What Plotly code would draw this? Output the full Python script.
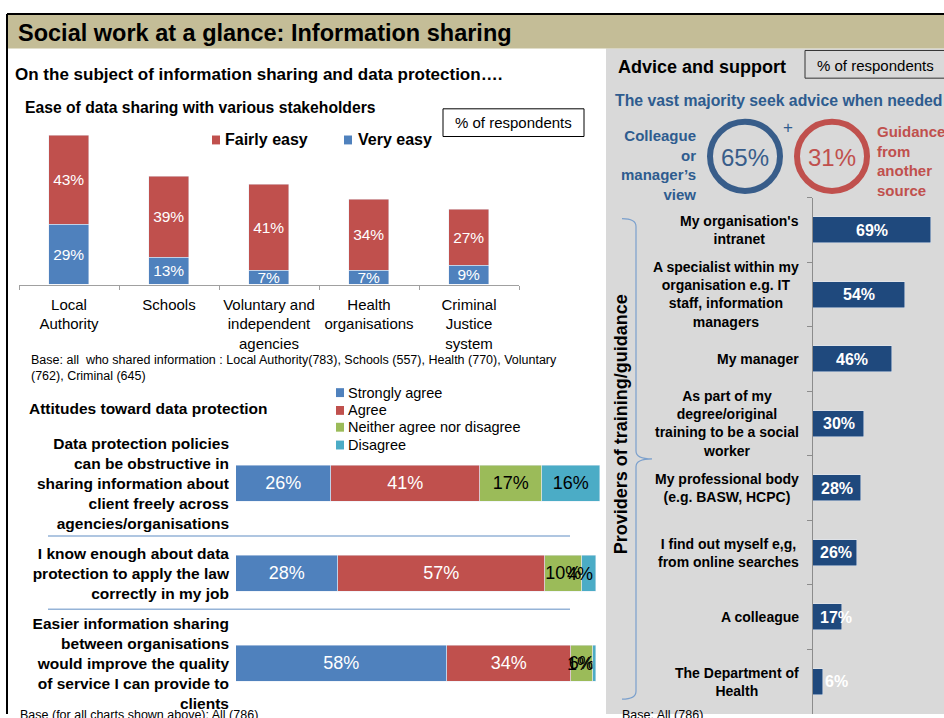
import plotly.graph_objects as go

W, H = 944, 718
FONT = "Liberation Sans, Arial, sans-serif"


def px(x):
    return x / W


def py(y):
    return 1 - y / H


# ---------------- data ----------------
stakeholders = ["Local<br>Authority", "Schools", "Voluntary and<br>independent<br>agencies",
                "Health<br>organisations", "Criminal<br>Justice<br>system"]
very_easy = [29, 13, 7, 7, 9]
fairly_easy = [43, 39, 41, 34, 27]

statements = [
    "Data protection policies<br>can be obstructive in<br>sharing information about<br>client freely across<br>agencies/organisations",
    "I know enough about data<br>protection to apply the law<br>correctly in my job",
    "Easier information sharing<br>between organisations<br>would improve the quality<br>of service I can provide to<br>clients",
]
strongly_agree = [26, 28, 58]
agree = [41, 57, 34]
neither = [17, 10, 6]
disagree = [16, 4, 1]
attitude_names = ["Strongly agree", "Agree", "Neither agree nor disagree", "Disagree"]

providers = [
    "My organisation's<br>intranet",
    "A specialist within my<br>organisation e.g. IT<br>staff, information<br>managers",
    "My manager",
    "As part of my<br>degree/original<br>training to be a social<br>worker",
    "My professional body<br>(e.g. BASW, HCPC)",
    "I find out myself e,g,<br>from online searches",
    "A colleague",
    "The Department of<br>Health",
]
provider_pct = [69, 54, 46, 30, 28, 26, 17, 6]

colleague_pct = 65
other_source_pct = 31

# ---------------- colours ----------------
BLUE = "#4F81BD"
RED = "#C0504D"
GREEN = "#9BBB59"
TEAL = "#4BACC6"
NAVY = "#1F497D"
RING_BLUE = "#385D8A"
TXT_BLUE = "#2E5C8F"
GRAY_PANEL = "#D9D9D9"
TAN = "#C4BD97"

fig = go.Figure()

# ---------- top-left stacked columns ----------
for name, vals, col in [("Very easy", very_easy, BLUE), ("Fairly easy", fairly_easy, RED)]:
    fig.add_trace(go.Bar(x=stakeholders, y=vals, name=name, marker_color=col,
                         width=0.4, xaxis="x", yaxis="y", texttemplate="%{y}%",
                         textposition="inside", insidetextanchor="middle",
                         constraintext="none", textangle=0,
                         textfont=dict(color="white", size=15.5, family=FONT),
                         showlegend=False))

# ---------- bottom-left stacked horizontal bars ----------
att_vals = [strongly_agree, agree, neither, disagree]
att_cols = [BLUE, RED, GREEN, TEAL]
att_txt = ["white", "white", "black", "black"]
annotations = []
for k, (name, vals, col, tc) in enumerate(zip(attitude_names, att_vals, att_cols, att_txt)):
    last = k == len(att_vals) - 1
    tt = [("" if (last and v < 5) else "%{x}%") for v in vals]
    fig.add_trace(go.Bar(y=statements, x=vals, name=name, orientation="h", marker_color=col,
                         width=0.4, xaxis="x2", yaxis="y2", texttemplate=tt,
                         textposition="inside", insidetextanchor="middle",
                         constraintext="none", textangle=0,
                         textfont=dict(color=tc, size=18, family=FONT), showlegend=False))
# tiny end-segment labels pulled back inside the plot edge (as in the original)
for i, v in enumerate(disagree):
    if v < 5:
        end = strongly_agree[i] + agree[i] + neither[i] + disagree[i]
        annotations.append(dict(x=end, xref="x2", y=statements[i], yref="y2", text=f"{v}%",
                                showarrow=False, xanchor="right", yanchor="middle", xshift=-1,
                                font=dict(size=18, color="black", family=FONT)))

# ---------- right horizontal bars ----------
fig.add_trace(go.Bar(y=providers, x=provider_pct, orientation="h", marker_color=NAVY,
                     width=0.4, xaxis="x3", yaxis="y3", showlegend=False))

shapes = []


def rect(x0, y0, x1, y1, fill=None, line=None, lw=1, layer="below"):
    shapes.append(dict(type="rect", xref="paper", yref="paper", x0=px(x0), x1=px(x1),
                       y0=py(y1), y1=py(y0), fillcolor=fill or "rgba(0,0,0,0)",
                       line=dict(color=line or "rgba(0,0,0,0)", width=lw if line else 0),
                       layer=layer))


def hline(x0, y0, x1, y1, color, lw=1, layer="below"):
    shapes.append(dict(type="line", xref="paper", yref="paper", x0=px(x0), x1=px(x1),
                       y0=py(y0), y1=py(y1), line=dict(color=color, width=lw), layer=layer))


def text(x, y, s, size, color="black", bold=False, xanchor="left", yanchor="middle",
         align="left", **kw):
    annotations.append(dict(x=px(x), y=py(y), xref="paper", yref="paper", text=s,
                            showarrow=False, xanchor=xanchor, yanchor=yanchor, align=align,
                            font=dict(size=size, color=color, family=FONT,
                                      weight="bold" if bold else "normal"), **kw))


# background panels
rect(606, 45, 944, 718, fill=GRAY_PANEL)
rect(7, 10, 944, 45, fill=TAN)
hline(7, 10, 944, 10, "black", 2)
hline(7, 10, 7, 718, "black", 2)

# titles
text(16, 29, "Social work at a glance: Information sharing", 23.5, bold=True)
text(13, 71, "On the subject of information sharing and data protection….", 17, bold=True)
text(23, 105, "Ease of data sharing with various stakeholders", 15.7, bold=True)

# % of respondents box (left)
rect(443, 106, 584, 134, fill="white", line="black", lw=1)
text(513, 120, "% of respondents", 15, xanchor="center")

# top legend
rect(212, 133, 220, 142, fill=RED)
text(223, 137, "Fairly easy", 16, bold=True)
rect(344, 133, 352, 142, fill=BLUE)
text(356, 137, "Very easy", 16, bold=True)

text(29, 368, "Base: all  who shared information : Local Authority(783), Schools (557), Health (770), Voluntary<br>(762), Criminal (645)",
     12.5, yanchor="middle")

# bottom-left
text(27, 409, "Attitudes toward data protection", 15.5, bold=True)
for i, (name, col) in enumerate(zip(attitude_names, att_cols)):
    yy = [393, 411, 428, 446][i]
    rect(336, yy - 4.5, 344, yy + 4.5, fill=col)
    text(346, yy, name, 14.5)
hline(48, 538, 570, 538, "#95B3D7", 1.5)
hline(48, 612, 570, 612, "#95B3D7", 1.5)
text(18, 710, "Base (for all charts shown above): All (786)", 12.5, yanchor="top")

# right panel
text(616, 64, "Advice and support", 18, bold=True)
rect(805, 47, 950, 75, line="#333333", lw=1)
text(815, 62, "% of respondents", 15)
text(613, 98, "The vast majority seek advice when needed", 15.8, color=TXT_BLUE, bold=True)

for cx, col, val in [(745, RING_BLUE, colleague_pct), (832, RED, other_source_pct)]:
    r = 35
    shapes.append(dict(type="circle", xref="paper", yref="paper", x0=px(cx - r), x1=px(cx + r),
                       y0=py(154 + r), y1=py(154 - r), line=dict(color=col, width=6),
                       layer="above"))
    text(cx, 155, f"{val}%", 24, color=col, xanchor="center")
text(788, 125, "+", 17, color=TXT_BLUE, xanchor="center")
text(698, 163, "Colleague<br>or<br>manager’s<br>view", 15, color=TXT_BLUE, bold=True,
     xanchor="right", align="right")
text(875, 159, "Guidance<br>from<br>another<br>source", 15, color=RED, bold=True)

# brace
pts = [(622, 217), (636, 217), (636, 225), (636, 452), (636, 460), (652, 460), (636, 460),
       (636, 468), (636, 695), (636, 703), (622, 703)]
P = [(px(a), py(b)) for a, b in pts]
path = (f"M{P[0][0]},{P[0][1]} Q{P[1][0]},{P[1][1]} {P[2][0]},{P[2][1]} "
        f"L{P[3][0]},{P[3][1]} Q{P[4][0]},{P[4][1]} {P[5][0]},{P[5][1]} "
        f"Q{P[6][0]},{P[6][1]} {P[7][0]},{P[7][1]} L{P[8][0]},{P[8][1]} "
        f"Q{P[9][0]},{P[9][1]} {P[10][0]},{P[10][1]}")
shapes.append(dict(type="path", xref="paper", yref="paper", path=path,
                   line=dict(color="#7BA0CD", width=1.2), layer="above"))
text(621, 425, "Providers of training/guidance", 18, bold=True, xanchor="center",
     textangle=-90)

for cat, v in zip(providers, provider_pct):
    annotations.append(dict(x=px(801), xref="paper", y=cat, yref="y3", text=cat,
                            showarrow=False, xanchor="right", align="center",
                            yanchor="middle",
                            font=dict(size=14, color="black", family=FONT, weight="bold")))
    annotations.append(dict(x=max(v / 2, 13.5), xref="x3", y=cat, yref="y3", text=f"{v}%",
                            showarrow=False, xanchor="center", yanchor="middle",
                            font=dict(size=16, color="white", family=FONT, weight="bold")))
text(620, 710, "Base: All (786)", 12.5, yanchor="top")

fig.update_layout(
    width=W, height=H, margin=dict(l=0, r=0, t=0, b=0),
    paper_bgcolor="white", plot_bgcolor="rgba(0,0,0,0)",
    barmode="stack", bargap=0, font=dict(family=FONT, color="black"),
    shapes=shapes, annotations=annotations,
    xaxis=dict(domain=[px(19), px(519)], anchor="y", showline=True, linecolor="#A0A0A0",
               ticks="outside", tickson="boundaries", ticklen=4, tickcolor="#A0A0A0",
               ticklabelstandoff=6, tickangle=0, tickfont=dict(size=15, color="black"),
               showgrid=False),
    yaxis=dict(domain=[py(284), py(116)], anchor="x", range=[0, 80], visible=False,
               showgrid=False),
    xaxis2=dict(domain=[px(236), px(600)], anchor="y2", range=[0, 100], visible=False),
    yaxis2=dict(domain=[py(712.5), py(439.5)], anchor="x2", range=[2.5, -0.5],
                type="category", categoryorder="array", categoryarray=statements,
                showline=False, ticks="", showgrid=False, ticklabelstandoff=6,
                tickfont=dict(size=15.5, color="black", weight="bold")),
    xaxis3=dict(domain=[px(813), 1], anchor="y3", range=[0, 76.6], visible=False),
    yaxis3=dict(domain=[0, py(196)], anchor="x3", range=[7.5, -0.5], type="category",
                categoryorder="array", categoryarray=providers, showticklabels=False,
                showline=True, linecolor="#8C8C8C", linewidth=1, ticks="outside",
                tickson="boundaries", ticklen=5, tickcolor="#8C8C8C", showgrid=False),
)

fig.write_html("out.html", config={"displayModeBar": False},
               post_script="document.body.style.margin='0';")
